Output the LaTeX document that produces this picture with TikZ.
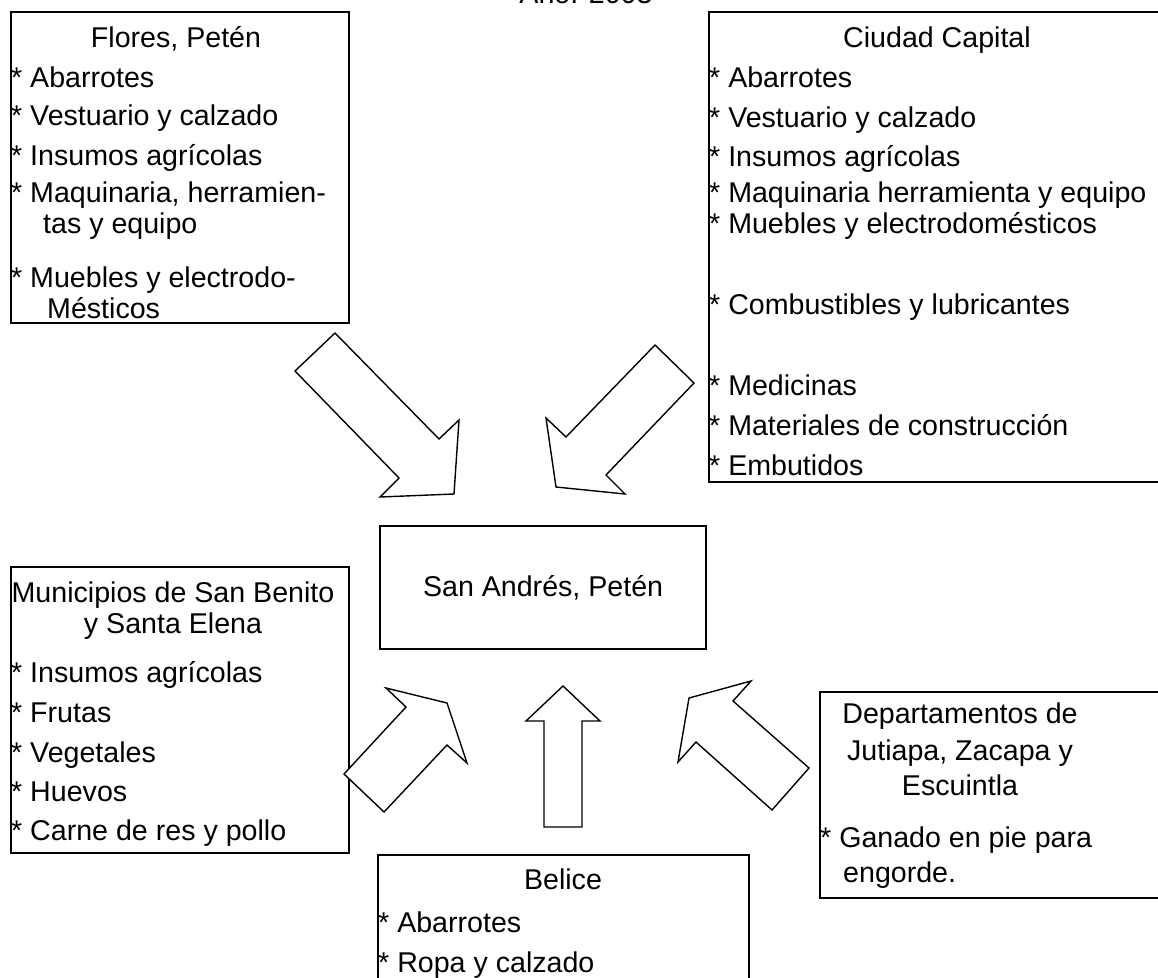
\documentclass[tikz,border=0pt]{standalone}
\usepackage{fontspec}
\setmainfont{Liberation Sans}
\tikzset{
  marco/.style={draw=black, line width=2.2pt, rectangle, inner sep=0pt, anchor=north west},
  flecha/.style={draw=black, line width=1.4pt, line join=miter, fill=white},
  titulo/.style={anchor=base},
  renglon/.style={anchor=base west}
}
\begin{document}
\begin{tikzpicture}[x=1pt,y=1pt]
    \tikzstyle{every node}+=[inner sep=0pt, font=\fontsize{28.6}{34}\selectfont]
    \useasboundingbox (0,0) rectangle (1158,-977);
    \node [titulo] (anio) at (586,-4) {Año: 2003};
    \node [marco, minimum width=338pt, minimum height=311pt] (flores) at (10,-11) {};
    \node [marco, minimum width=462pt, minimum height=470pt] (capital) at (708,-11) {};
    \node [marco, minimum width=326pt, minimum height=123pt] (sanandres) at (379,-525) {San Andrés, Petén};
    \node [marco, minimum width=338pt, minimum height=286pt] (municipios) at (10,-566) {};
    \node [marco, minimum width=351pt, minimum height=206pt] (deptos) at (819,-691) {};
    \node [marco, minimum width=371pt, minimum height=136pt] (belice) at (377,-854) {};
    \node [titulo] (flores-t) at (176,-47) {Flores, Petén};
    \node [renglon] (flores-1) at (11,-87) {* Abarrotes};
    \node [renglon] (flores-2) at (11,-125) {* Vestuario y calzado};
    \node [renglon] (flores-3) at (11,-165) {* Insumos agrícolas};
    \node [renglon] (flores-4) at (11,-202) {* Maquinaria, herramien-};
    \node [renglon] (flores-4b) at (43,-233) {tas y equipo};
    \node [renglon] (flores-5) at (11,-287) {* Muebles y electrodo-};
    \node [renglon] (flores-5b) at (47,-318) {Mésticos};
    \node [titulo] (capital-t) at (937,-47) {Ciudad Capital};
    \node [renglon] (capital-1) at (709,-87) {* Abarrotes};
    \node [renglon] (capital-2) at (709,-127) {* Vestuario y calzado};
    \node [renglon] (capital-3) at (709,-166) {* Insumos agrícolas};
    \node [renglon] (capital-4) at (709,-202) {* Maquinaria herramienta y equipo};
    \node [renglon] (capital-5) at (709,-233) {* Muebles y electrodomésticos};
    \node [renglon] (capital-6) at (709,-314) {* Combustibles y lubricantes};
    \node [renglon] (capital-7) at (709,-395) {* Medicinas};
    \node [renglon] (capital-8) at (709,-435) {* Materiales de construcción};
    \node [renglon] (capital-9) at (709,-475) {* Embutidos};
    \node [titulo] (municipios-t) at (173,-602) {Municipios de San Benito};
    \node [titulo] (municipios-tb) at (173,-633) {y Santa Elena};
    \node [renglon] (municipios-1) at (11,-682) {* Insumos agrícolas};
    \node [renglon] (municipios-2) at (11,-722) {* Frutas};
    \node [renglon] (municipios-3) at (11,-762) {* Vegetales};
    \node [renglon] (municipios-4) at (11,-801) {* Huevos};
    \node [renglon] (municipios-5) at (11,-840) {* Carne de res y pollo};
    \node [titulo] (deptos-t) at (960,-723) {Departamentos de};
    \node [titulo] (deptos-tb) at (960,-760) {Jutiapa, Zacapa y};
    \node [titulo] (deptos-tc) at (960,-795) {Escuintla};
    \node [renglon] (deptos-1) at (820,-847) {* Ganado en pie para};
    \node [renglon] (deptos-1b) at (843,-882) {engorde.};
    \node [titulo] (belice-t) at (563,-889) {Belice};
    \node [renglon] (belice-1) at (378,-932) {* Abarrotes};
    \node [renglon] (belice-2) at (378,-972) {* Ropa y calzado};
    \draw [flecha] (335,-333) -- (295,-371) -- (399,-478) -- (380,-497) -- (454,-494) -- (459,-420) -- (439,-439) -- cycle;
    \draw [flecha] (655,-345) -- (694,-383) -- (606,-475) -- (625,-494) -- (556,-487) -- (546,-418) -- (566,-437) -- cycle;
    \draw [flecha] (386,-688) -- (447,-703) -- (467,-763) -- (447,-745) -- (384,-812) -- (344,-774) -- (406,-707) -- cycle;
    \draw [flecha] (563,-686) -- (600,-721) -- (582,-721) -- (582,-827) -- (544,-827) -- (544,-721) -- (526,-721) -- cycle;
    \draw [flecha] (751,-681) -- (733,-701) -- (809,-768) -- (772,-810) -- (696,-742) -- (678,-762) -- (689,-698) -- cycle;
\end{tikzpicture}
\end{document}
